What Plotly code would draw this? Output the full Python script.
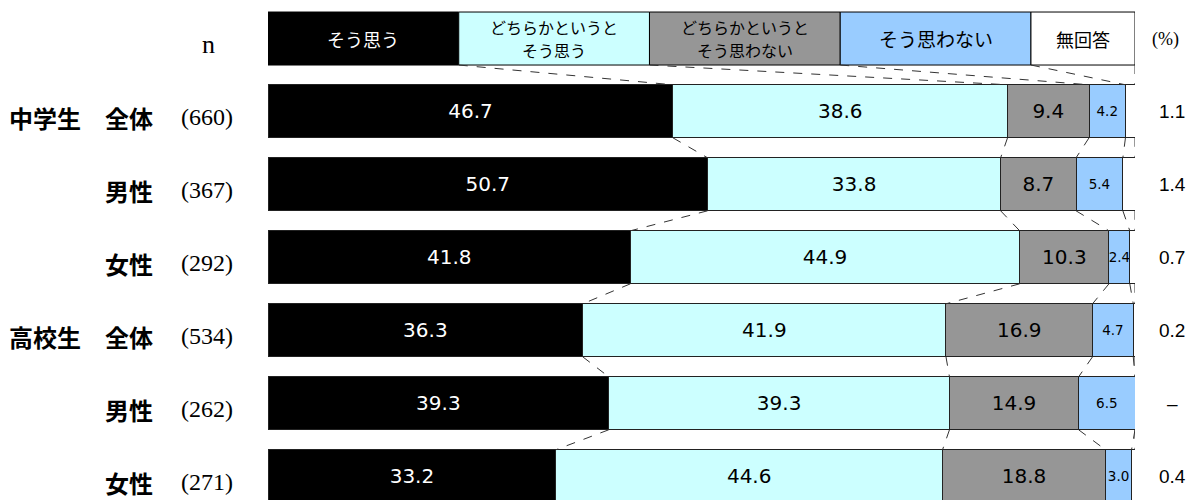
import plotly.graph_objects as go
import numpy as np

# ---------------- data ----------------
groups = ["中学生", "", "", "高校生", "", ""]
subgroups = ["全体", "男性", "女性", "全体", "男性", "女性"]
n_values = [660, 367, 292, 534, 262, 271]
series_names = ["そう思う", "どちらかというと<br>そう思う", "どちらかというと<br>そう思わない", "そう思わない", "無回答"]
agree = [46.7, 50.7, 41.8, 36.3, 39.3, 33.2]
somewhat_agree = [38.6, 33.8, 44.9, 41.9, 39.3, 44.6]
somewhat_disagree = [9.4, 8.7, 10.3, 16.9, 14.9, 18.8]
disagree = [4.2, 5.4, 2.4, 4.7, 6.5, 3.0]
no_answer = [1.1, 1.4, 0.7, 0.2, 0.0, 0.4]
no_answer_labels = ["1.1", "1.4", "0.7", "0.2", "–", "0.4"]

# ---------------- style ----------------
colors = ["#000000", "#CCFFFF", "#969696", "#99CCFF", "#FFFFFF"]
text_colors = ["#FFFFFF", "#000000", "#000000", "#000000", "#000000"]
text_sizes = [20, 20, 20, 13.5, 12]
legend_edges = [0, 22, 44, 66, 88, 100]
legend_font_sizes = [18, 16, 16, 19, 18]
legend_text_colors = ["#FFFFFF", "#000000", "#000000", "#000000", "#000000"]
BAR_W = 0.726
LEG_Y0, LEG_Y1 = -1.36, -0.634
PAGE_OFF = 8               # default body margin of the html page
PLOT_L, PLOT_R = 268, 1135  # page pixels
FIG_W, FIG_H = 1200 - PAGE_OFF, 500 - PAGE_OFF
NUMFONT = "DejaVu Sans, sans-serif"
RFONT = "Liberation Sans, Arial, sans-serif"
JPFONT = "Noto Sans CJK JP, sans-serif"
SERIF = "Liberation Serif, DejaVu Serif, serif"

def px2paper(px):
    return (px - PLOT_L) / (PLOT_R - PLOT_L)

series = [agree, somewhat_agree, somewhat_disagree, disagree, no_answer]
rows = list(range(len(agree)))

fig = go.Figure()
for k, vals in enumerate(series):
    show_text = k < 4
    fig.add_trace(go.Bar(
        y=rows, x=vals, orientation="h", width=BAR_W,
        name=series_names[k],
        marker=dict(color=colors[k], line=dict(color="#222222", width=1)),
        text=[f"{v:.1f}" for v in vals] if show_text else None,
        textposition="inside" if show_text else "none",
        insidetextanchor="middle", textangle=0, constraintext="none",
        textfont=dict(color=text_colors[k], size=text_sizes[k], family=NUMFONT),
        hoverinfo="skip",
    ))

shapes = []
annotations = []

# legend boxes
leg_mid = (LEG_Y0 + LEG_Y1) / 2
for k in range(5):
    shapes.append(dict(type="rect", xref="x", yref="y",
                       x0=legend_edges[k], x1=legend_edges[k + 1], y0=LEG_Y0, y1=LEG_Y1,
                       fillcolor=colors[k], line=dict(color="#000000", width=1), layer="above"))
    lines = series_names[k].split("<br>")
    shifts = [0] if len(lines) == 1 else [11.5, -11.5]
    for line, ys in zip(lines, shifts):
        annotations.append(dict(xref="x", yref="y", xanchor="center",
                                x=(legend_edges[k] + legend_edges[k + 1]) / 2, y=leg_mid, yshift=ys,
                                text=line, showarrow=False,
                                font=dict(size=legend_font_sizes[k], color=legend_text_colors[k], family=JPFONT)))

# cumulative boundaries
cum = np.cumsum(np.array(series[:4]), axis=0)
bounds = [list(cum[:, r]) + [100.0] for r in rows]

# connectors: legend -> first bar
for k in range(5):
    shapes.append(dict(type="line", xref="x", yref="y",
                       x0=legend_edges[k + 1], y0=LEG_Y1, x1=bounds[0][k], y1=0 - BAR_W / 2,
                       line=dict(color="#333333", width=1, dash="dash")))
# connectors between bars
for r in rows[:-1]:
    for k in range(5):
        shapes.append(dict(type="line", xref="x", yref="y",
                           x0=bounds[r][k], y0=r + BAR_W / 2, x1=bounds[r + 1][k], y1=r + 1 - BAR_W / 2,
                           line=dict(color="#333333", width=1, dash="dash")))

# left labels and right no-answer column
for r in rows:
    if groups[r]:
        annotations.append(dict(xref="paper", yref="y", x=px2paper(7), y=r, yshift=-6,
                                xanchor="left", text=f"<b>{groups[r]}</b>", showarrow=False,
                                font=dict(size=24, color="#000000", family=JPFONT)))
    annotations.append(dict(xref="paper", yref="y", x=px2paper(155), y=r, yshift=-6,
                            xanchor="right", text=f"<b>{subgroups[r]}</b>", showarrow=False,
                            font=dict(size=24, color="#000000", family=JPFONT)))
    annotations.append(dict(xref="paper", yref="y", x=px2paper(179), y=r, yshift=-6,
                            xanchor="left", text=f"({n_values[r]})", showarrow=False,
                            font=dict(size=24, color="#000000", family=SERIF)))
    annotations.append(dict(xref="paper", yref="y", x=px2paper(1172), y=r,
                            xanchor="center", text=no_answer_labels[r], showarrow=False,
                            font=dict(size=19, color="#000000", family=RFONT)))

annotations.append(dict(xref="paper", yref="y", x=px2paper(208), y=leg_mid, yshift=-6,
                        xanchor="center", text="n", showarrow=False,
                        font=dict(size=26, color="#000000", family=SERIF)))
annotations.append(dict(xref="paper", yref="y", x=px2paper(1165), y=leg_mid, yshift=-1,
                        xanchor="center", text="(%)", showarrow=False,
                        font=dict(size=18, color="#000000", family=SERIF)))

# y range: page pixel p -> row index (p - 111.3) / 73
y_top = (PAGE_OFF - 111.3) / 73
y_bot = (500 - 111.3) / 73

fig.update_layout(
    width=FIG_W, height=FIG_H,
    margin=dict(l=PLOT_L - PAGE_OFF, r=FIG_W - (PLOT_R - PAGE_OFF), t=0, b=0),
    barmode="stack", showlegend=False,
    plot_bgcolor="#FFFFFF", paper_bgcolor="#FFFFFF",
    xaxis=dict(range=[0, 100], visible=False, fixedrange=True),
    yaxis=dict(range=[y_bot, y_top], visible=False, fixedrange=True),
    shapes=shapes, annotations=annotations,
    font=dict(family=JPFONT),
)

fig.write_html("out.html")
